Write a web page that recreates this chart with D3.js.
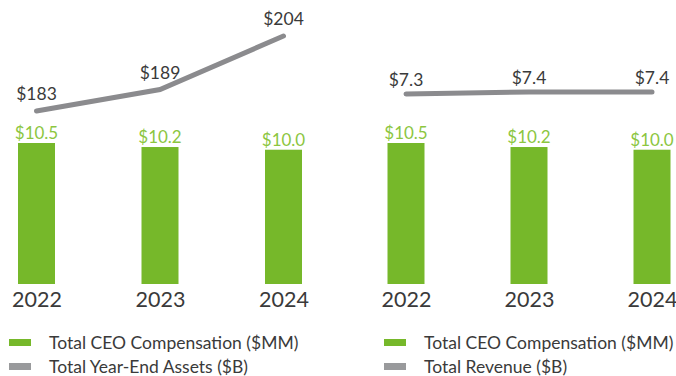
<!DOCTYPE html>
<html>
<head>
<meta charset="utf-8">
<script src="https://cdn.jsdelivr.net/npm/d3@7/dist/d3.min.js"></script>
<style>
  html, body { margin: 0; padding: 0; background: #fff; }
  svg { display: block; font-family: "Lato", "Open Sans", sans-serif; font-weight: 400; }
</style>
</head>
<body>
<svg id="chart" width="676" height="376"></svg>
<script>
// Fiscal years shown in both panels
const years = ["2022", "2023", "2024"];

// Total CEO compensation, $MM (bars, both panels)
const ceoComp = [10.5, 10.2, 10.0];

// Total year-end assets, $B (line, left panel)
const assets = [183, 189, 204];

// Total revenue, $B (line, right panel)
const revenue = [7.3, 7.4, 7.4];

// Legend labels
const leftLegend = ["Total CEO Compensation ($MM)", "Total Year-End Assets ($B)"];
const rightLegend = ["Total CEO Compensation ($MM)", "Total Revenue ($B)"];

const GREEN = "#76b82a";
const GREEN_TEXT = "#8cc63f";
const GREY = "#8b8b8e";
const TEXT = "#3a3a3a";

const svg = d3.select("#chart");

// Bar heights share one scale across the two panels
const yBar = d3.scaleLinear().domain([0, 10.5]).range([284, 143]);

const panels = [
  {
    xRange: [36.5, 283.5],
    line: assets,
    yLine: d3.scaleLinear().domain([183, 204]).range([111, 36]),
    lineFmt: d => "$" + d3.format("d")(d),
    labelGap: 11,
    legend: leftLegend,
    legendX: 9
  },
  {
    xRange: [406, 652],
    line: revenue,
    yLine: d3.scaleLinear().domain([7.3, 7.4]).range([94, 92]),
    lineFmt: d => "$" + d3.format(".1f")(d),
    labelGap: 8,
    legend: rightLegend,
    legendX: 384
  }
];

const barW = 37;

panels.forEach(p => {
  const g = svg.append("g");
  const x = d3.scalePoint().domain(years).range(p.xRange);

  // Compensation bars
  g.selectAll("rect.bar")
    .data(years.map((yr, i) => ({ yr, v: ceoComp[i] })))
    .join("rect")
    .attr("class", "bar")
    .attr("x", d => x(d.yr) - barW / 2)
    .attr("width", barW)
    .attr("y", d => yBar(d.v))
    .attr("height", d => yBar(0) - yBar(d.v))
    .attr("fill", GREEN);

  // Bar value labels
  g.selectAll("text.barLabel")
    .data(years.map((yr, i) => ({ yr, v: ceoComp[i] })))
    .join("text")
    .attr("class", "barLabel")
    .attr("x", d => x(d.yr))
    .attr("y", d => yBar(d.v) - 4)
    .attr("text-anchor", "middle")
    .attr("fill", GREEN_TEXT)
    .attr("font-size", 17)
    .text(d => "$" + d3.format(".1f")(d.v));

  // Line series
  const pts = years.map((yr, i) => ({ yr, v: p.line[i] }));
  g.append("path")
    .datum(pts)
    .attr("fill", "none")
    .attr("stroke", GREY)
    .attr("stroke-width", 5)
    .attr("stroke-linecap", "round")
    .attr("d", d3.line().x(d => x(d.yr)).y(d => p.yLine(d.v)));

  g.selectAll("text.lineLabel")
    .data(pts)
    .join("text")
    .attr("class", "lineLabel")
    .attr("x", d => x(d.yr))
    .attr("y", d => p.yLine(d.v) - p.labelGap)
    .attr("text-anchor", "middle")
    .attr("fill", TEXT)
    .attr("font-size", 17.5)
    .text(d => p.lineFmt(d.v));

  // Year axis
  const axis = g.append("g")
    .attr("transform", "translate(0,290)")
    .call(d3.axisBottom(x).tickSize(0).tickPadding(0));
  axis.select(".domain").remove();
  axis.selectAll("text")
    .attr("font-family", "Lato, 'Open Sans', sans-serif")
    .attr("font-weight", 400)
    .attr("font-size", 21.5)
    .attr("fill", TEXT)
    .attr("dy", "0.8em");

  // Legend
  const leg = g.append("g").attr("transform", `translate(${p.legendX},0)`);
  const rows = [
    { label: p.legend[0], color: GREEN, y: 343 },
    { label: p.legend[1], color: "#999a9c", y: 367 }
  ];
  rows.forEach(r => {
    leg.append("rect")
      .attr("x", 0).attr("y", r.y - 4)
      .attr("width", 22).attr("height", 7)
      .attr("fill", r.color);
    leg.append("text")
      .attr("x", 40).attr("y", r.y)
      .attr("dy", "0.35em")
      .attr("fill", TEXT)
      .attr("font-size", 17.5)
      .text(r.label);
  });
});
</script>
</body>
</html>
